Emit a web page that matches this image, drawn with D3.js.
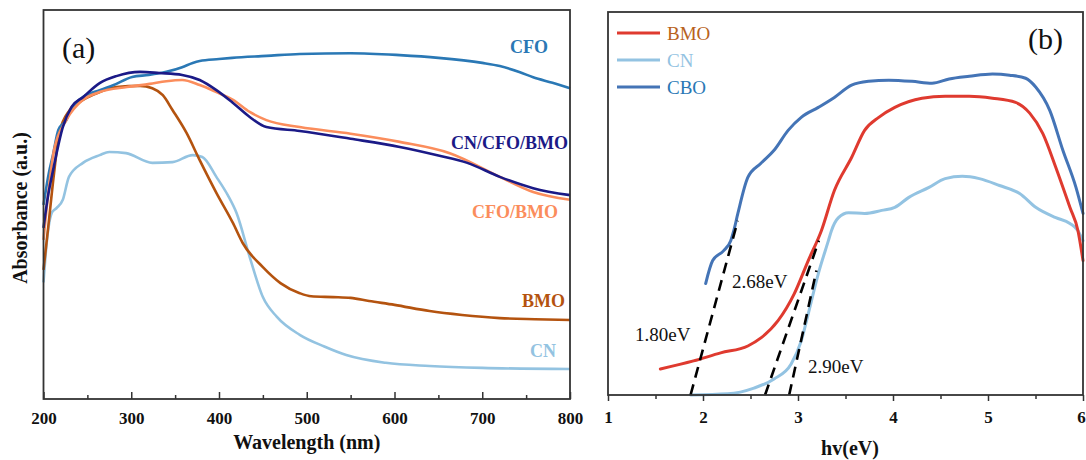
<!DOCTYPE html>
<html><head><meta charset="utf-8">
<script src="https://cdn.jsdelivr.net/npm/d3@7"></script>
<style>
html,body{margin:0;padding:0;background:#fff;}
svg{display:block;}
text{font-family:"Liberation Serif","Times New Roman",serif;}
</style></head>
<body>
<svg id="chart" width="1086" height="460"></svg>
<script>
// ---------- Panel (a) data: wavelength (nm) vs absorbance (a.u.) ----------
const wlTicks = [200, 300, 400, 500, 600, 700, 800];
const cfoData = [[200,49.9],[206,58],[211,63],[217,69.2],[226,71.7],[231,74.3],[245,77.6],[264,79.4],[280,80.7],[301,82.8],[320,83.3],[340,84.1],[358,85.3],[370,86.4],[378,86.9],[400,87.4],[415,87.7],[454,88.2],[492,88.7],[550,88.9],[606,88.4],[650,87.7],[700,86.4],[720,85.6],[743,84.0],[758,82.7],[780,81.3],[800,79.9]];
const cnCfoBmoData = [[200,44.0],[205,52],[211,58.9],[222,69.9],[232,75.1],[245,77.6],[264,81.2],[283,83.0],[310,84.1],[332,83.8],[358,83.3],[378,82.0],[397,79.4],[416,76.1],[435,72.5],[454,69.9],[492,68.9],[550,66.9],[606,64.8],[650,62.6],[683,60.7],[720,57.1],[758,54.2],[800,52.4]];
const cfoBmoData = [[200,40.9],[206,54],[212,64.0],[226,71.7],[245,76.9],[264,78.9],[295,80.2],[321,81.0],[340,81.7],[358,82.0],[378,80.7],[397,78.9],[416,76.9],[435,73.8],[454,71.7],[492,69.9],[550,68.2],[606,66.1],[663,63.2],[720,57.1],[758,53.2],[800,51.2]];
const bmoData = [[200,33.2],[205,43.4],[212,58],[218,68.4],[230,74.3],[245,76.9],[264,78.9],[283,80.2],[310,80.5],[324,79.9],[336,78.1],[347,74.3],[363,68.4],[378,61.4],[397,53.0],[416,45.2],[427,40.1],[450,33.9],[470,29.8],[492,27.2],[505,26.4],[530,26.2],[550,26.0],[571,25.2],[600,24.2],[640,22.6],[677,21.6],[720,20.8],[760,20.5],[800,20.3]];
const cnData = [[200,30],[204,40.9],[210,48.1],[215,49.1],[222,51.2],[229,57.1],[245,60.7],[264,62.7],[275,63.5],[294,63.2],[324,60.7],[347,60.9],[370,62.7],[381,62.2],[397,57.1],[410,52.4],[420,47.8],[435,36.5],[450,26.2],[466,21.1],[492,16.5],[520,13.5],[545,11.3],[590,9.3],[640,8.5],[700,8.0],[800,7.7]];
const seriesA = ["CFO", "CN/CFO/BMO", "CFO/BMO", "BMO", "CN"];

// ---------- Panel (b) data: hv (eV) vs (αhv)^2 ----------
const evTicks = [1, 2, 3, 4, 5, 6];
const bBmoData = [[1.551,6.8],[1.900,8.9],[2.186,11.0],[2.472,12.8],[2.610,14.9],[2.790,19.4],[2.960,26.4],[3.108,35.1],[3.246,42.9],[3.383,53.4],[3.564,62.0],[3.701,69.1],[3.850,72.5],[4.019,75.1],[4.305,77.5],[4.549,78.0],[4.803,78.0],[5.047,77.5],[5.290,76.4],[5.439,73.6],[5.576,68.3],[5.714,59.4],[5.862,49.0],[5.947,42.9],[6.0,35.1]];
const bCnData = [[1.869,0],[2.261,0.3],[2.536,1.8],[2.748,4.2],[2.928,8.1],[3.034,14.1],[3.108,21.2],[3.214,31.7],[3.320,40.3],[3.352,42.9],[3.426,46.3],[3.532,47.6],[3.701,47.4],[3.881,48.2],[4.019,49.0],[4.167,51.6],[4.379,54.2],[4.549,56.5],[4.729,57.1],[4.909,56.5],[5.121,54.7],[5.333,52.6],[5.502,49.0],[5.714,46.3],[5.862,44.8],[5.947,42.9],[6.0,40.3]];
const bCboData = [[2.028,29.1],[2.102,35.1],[2.218,37.7],[2.292,40.3],[2.324,42.9],[2.367,47.4],[2.472,56.8],[2.610,60.5],[2.748,63.9],[2.896,69.1],[3.034,72.5],[3.214,75.1],[3.383,77.7],[3.564,80.9],[3.744,81.9],[3.956,82.2],[4.199,81.9],[4.411,81.4],[4.591,82.5],[4.803,83.2],[5.047,83.8],[5.227,83.5],[5.396,82.7],[5.502,80.4],[5.650,74.3],[5.788,63.9],[5.926,54.2],[6.0,47.4]];
const legendB = ["BMO", "CN", "CBO"];
const tangents = [[[1.869,0],[2.366,45.5]], [[2.653,0],[3.22,40.3]], [[2.907,0],[3.194,32.5]]];
const gapLabels = ["1.80eV", "2.68eV", "2.90eV"];

// ---------- drawing ----------
const svg = d3.select("#chart");
const frameColor = "#333";

// Panel (a)
const xA = d3.scaleLinear().domain([200, 800]).range([43.5, 570]);
const yA = d3.scaleLinear().domain([0, 100]).range([399, 10]);
const gA = svg.append("g");
const colorsA = {"CFO":"#2a78b5","CN/CFO/BMO":"#1b1a87","CFO/BMO":"#fb8d5c","BMO":"#b4530f","CN":"#93c3e1"};
const dataA = {"CFO":cfoData,"CN/CFO/BMO":cnCfoBmoData,"CFO/BMO":cfoBmoData,"BMO":bmoData,"CN":cnData};
const lineA = d3.line().x(d => xA(d[0])).y(d => yA(d[1])).curve(d3.curveMonotoneX);
["CN","BMO","CFO","CFO/BMO","CN/CFO/BMO"].forEach(k => {
  gA.append("path").attr("d", lineA(dataA[k])).attr("fill","none")
    .attr("stroke", colorsA[k]).attr("stroke-width", 2.6).attr("stroke-linejoin","round");
});
// minor ticks
gA.append("g").attr("transform", `translate(0,${yA(0)})`)
  .call(d3.axisBottom(xA).tickValues(d3.range(250, 800, 100)).tickSize(-4).tickFormat(""))
  .call(g => { g.select(".domain").remove(); g.selectAll("line").attr("stroke", frameColor).attr("stroke-width",1.5); });
gA.append("g").attr("transform", `translate(0,${yA(0)})`)
  .call(d3.axisBottom(xA).tickValues(wlTicks).tickSize(-7).tickPadding(13))
  .call(g => {
    g.select(".domain").remove();
    g.selectAll("line").attr("stroke", frameColor).attr("stroke-width",1.5);
    g.selectAll("text").attr("font-family","Liberation Serif").attr("font-weight","bold").attr("font-size",17).attr("fill","#111");
  });
gA.append("rect").attr("x", xA(200)).attr("y", yA(100)).attr("width", xA(800)-xA(200)).attr("height", yA(0)-yA(100))
  .attr("fill","none").attr("stroke", frameColor).attr("stroke-width",1.8);
gA.append("text").attr("x", (xA(200)+xA(800))/2).attr("y", 449).attr("text-anchor","middle")
  .attr("font-weight","bold").attr("font-size",20).attr("fill","#111").text("Wavelength (nm)");
gA.append("text").attr("transform","translate(27,208) rotate(-90)").attr("text-anchor","middle")
  .attr("font-weight","bold").attr("font-size",20).attr("fill","#111").text("Absorbance (a.u.)");
gA.append("text").attr("x", xA(221)).attr("y", 58).attr("font-size",30).attr("fill","#111").text("(a)");
const labA = [
  ["CFO", 548, 53],
  ["CN/CFO/BMO", 568, 149],
  ["CFO/BMO", 558, 218],
  ["BMO", 565, 307],
  ["CN", 556, 357]
];
labA.forEach(([k, px, py]) => {
  gA.append("text").attr("x", px).attr("y", py).attr("text-anchor","end")
    .attr("font-weight","bold").attr("font-size",18).attr("fill", colorsA[k]).text(k);
});

// Panel (b)
const xB = d3.scaleLinear().domain([1, 6]).range([608, 1083]);
const yB = d3.scaleLinear().domain([0, 100]).range([395, 12]);
const gB = svg.append("g");
const colorsB = {"BMO":"#df3a2f","CN":"#93c3e2","CBO":"#4474b6"};
const textColorsB = {"BMO":"#b8621c","CN":"#93c3e2","CBO":"#2a78b5"};
const dataB = {"BMO":bBmoData,"CN":bCnData,"CBO":bCboData};
const lineB = d3.line().x(d => xB(d[0])).y(d => yB(d[1])).curve(d3.curveMonotoneX);
["CN","BMO","CBO"].forEach(k => {
  gB.append("path").attr("d", lineB(dataB[k])).attr("fill","none")
    .attr("stroke", colorsB[k]).attr("stroke-width", 3).attr("stroke-linejoin","round").attr("stroke-linecap","round");
});
tangents.forEach(t => {
  gB.append("path").attr("d", d3.line().x(d => xB(d[0])).y(d => yB(d[1]))(t))
    .attr("fill","none").attr("stroke","#000").attr("stroke-width",2.6).attr("stroke-dasharray","11,7");
});
gB.append("g").attr("transform", `translate(0,${yB(0)})`)
  .call(d3.axisBottom(xB).tickValues(d3.range(1.5, 6, 1)).tickSize(4).tickFormat(""))
  .call(g => { g.select(".domain").remove(); g.selectAll("line").attr("stroke", frameColor).attr("stroke-width",1.5); });
gB.append("g").attr("transform", `translate(0,${yB(0)})`)
  .call(d3.axisBottom(xB).tickValues(evTicks).tickSize(6).tickPadding(10).tickFormat(d3.format("d")))
  .call(g => {
    g.select(".domain").remove();
    g.selectAll("line").attr("stroke", frameColor).attr("stroke-width",1.5);
    g.selectAll("text").attr("font-family","Liberation Serif").attr("font-weight","bold").attr("font-size",17).attr("fill","#111")
      .attr("dx", d => d === 6 ? -2 : 0);
  });
gB.append("rect").attr("x", xB(1)).attr("y", yB(100)).attr("width", xB(6)-xB(1)).attr("height", yB(0)-yB(100))
  .attr("fill","none").attr("stroke", frameColor).attr("stroke-width",1.8);
gB.append("text").attr("x", 850).attr("y", 455).attr("text-anchor","middle")
  .attr("font-weight","bold").attr("font-size",20).attr("fill","#111").text("hv(eV)");
// clipped y-axis title
svg.append("clipPath").attr("id","ylabclip").append("rect").attr("x",575).attr("y",100).attr("width",14).attr("height",220);
svg.append("text").attr("clip-path","url(#ylabclip)").attr("transform","translate(595,206) rotate(-90)")
  .attr("text-anchor","middle").attr("font-size",16).attr("fill","#111").text("(αhν)²(eV)²");
gB.append("text").attr("x", 1028).attr("y", 49).attr("font-size",30).attr("fill","#111").text("(b)");
// legend
legendB.forEach((k, i) => {
  const ly = 33 + i * 27;
  gB.append("line").attr("x1", 617).attr("x2", 660).attr("y1", ly).attr("y2", ly)
    .attr("stroke", colorsB[k]).attr("stroke-width", 3);
  gB.append("text").attr("x", 667).attr("y", ly + 7).attr("font-size",19).attr("fill", textColorsB[k]).text(k);
});
// band gap annotations
const gapPos = [[635, 341], [732, 288], [808, 373]];
gapLabels.forEach((t, i) => {
  gB.append("text").attr("x", gapPos[i][0]).attr("y", gapPos[i][1]).attr("font-size",19).attr("fill","#111").text(t);
});
</script>
</body></html>
